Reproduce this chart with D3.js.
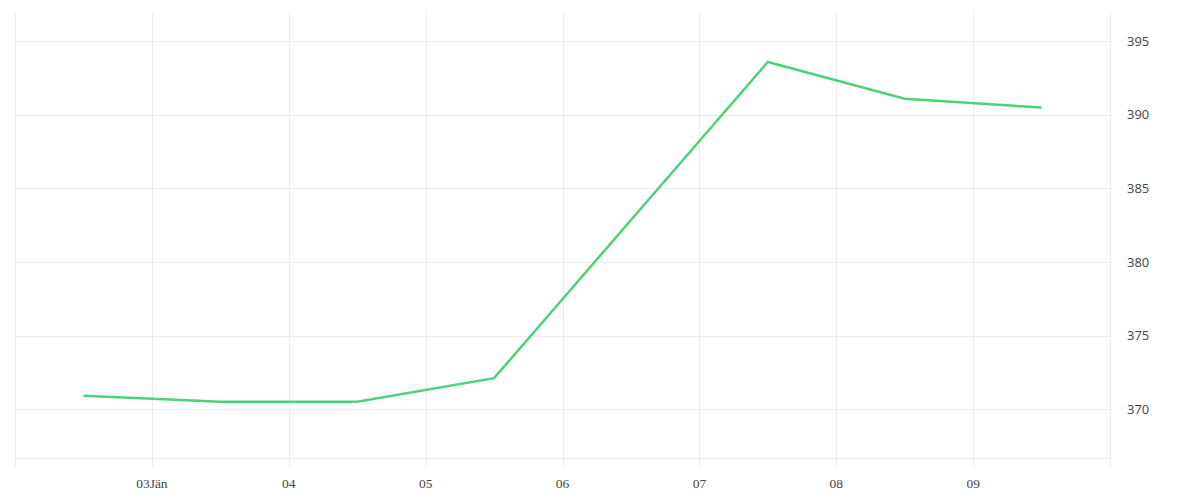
<!DOCTYPE html>
<html>
<head>
<meta charset="utf-8">
<script src="https://cdn.jsdelivr.net/npm/d3@7"></script>
<style>
   body { margin: 0; background: #fff; }
   .grid line { stroke: #ececec; stroke-width: 1; shape-rendering: crispEdges; }
   .xlabel { font-family: "Liberation Serif", serif; font-size: 13.5px; fill: #444; }
   .ylabel { font-family: "Open Sans", sans-serif; font-size: 13px; fill: #444; }
</style>
</head>
<body>
<svg id="chart"></svg>
<script>
// dates of the samples (noon of each day)
const dates = ["2020-01-02T12:00", "2020-01-03T12:00", "2020-01-04T12:00", "2020-01-05T12:00",
               "2020-01-07T12:00", "2020-01-08T12:00", "2020-01-09T12:00"];
const values = [370.9, 370.5, 370.5, 372.1, 393.6, 391.1, 390.5];
const xTicks = ["2020-01-02", "2020-01-03", "2020-01-04", "2020-01-05", "2020-01-06",
                "2020-01-07", "2020-01-08", "2020-01-09", "2020-01-10"];
const xTickLabels = ["", "03Jän", "04", "05", "06", "07", "08", "09", ""];
const yTicks = [370, 375, 380, 385, 390, 395];

const width = 1200;
const height = 500;
const parse = d3.timeParse("%Y-%m-%dT%H:%M");
const parseDay = d3.timeParse("%Y-%m-%d");

const svg = d3.select("#chart").attr("width", width).attr("height", height);

const x = d3.scaleTime()
   .domain([parseDay(xTicks[0]), parseDay(xTicks[xTicks.length - 1])])
   .range([15, 1110]);

const y = d3.scaleLinear()
   .domain([366.67, 397])
   .range([458, 12]);

// Horizontal grid
const grid = svg.append("g").attr("class", "grid");
grid.selectAll(".hgrid")
   .data(yTicks)
   .enter()
   .append("line")
   .attr("x1", x.range()[0])
   .attr("x2", x.range()[1])
   .attr("y1", (d) => Math.round(y(d)) + 0.5)
   .attr("y2", (d) => Math.round(y(d)) + 0.5);

// bottom baseline
grid.append("line")
   .attr("x1", x.range()[0])
   .attr("x2", x.range()[1])
   .attr("y1", y.range()[0] + 0.5)
   .attr("y2", y.range()[0] + 0.5);

// Vertical grid (runs a bit below the plot like tick marks)
grid.selectAll(".vgrid")
   .data(xTicks)
   .enter()
   .append("line")
   .attr("x1", (d) => Math.round(x(parseDay(d))) + 0.5)
   .attr("x2", (d) => Math.round(x(parseDay(d))) + 0.5)
   .attr("y1", y.range()[1])
   .attr("y2", y.range()[0] + 9);

// X labels
svg.selectAll(".xlabel")
   .data(xTicks)
   .enter()
   .append("text")
   .attr("class", "xlabel")
   .attr("x", (d) => x(parseDay(d)))
   .attr("y", 488)
   .attr("text-anchor", "middle")
   .text((d, i) => xTickLabels[i]);

// Y labels on the right
svg.selectAll(".ylabel")
   .data(yTicks)
   .enter()
   .append("text")
   .attr("class", "ylabel")
   .attr("x", 1127)
   .attr("y", (d) => y(d))
   .attr("dy", "0.35em")
   .text((d) => d);

// Line
const points = dates.map((d, i) => ({ date: parse(d), value: values[i] }));
const line = d3.line()
   .x((d) => x(d.date))
   .y((d) => y(d.value));

svg.append("path")
   .datum(points)
   .attr("fill", "none")
   .attr("stroke", "#4cd27b")
   .attr("stroke-width", 2.5)
   .attr("stroke-linejoin", "miter")
   .attr("d", line);
</script>
</body>
</html>
